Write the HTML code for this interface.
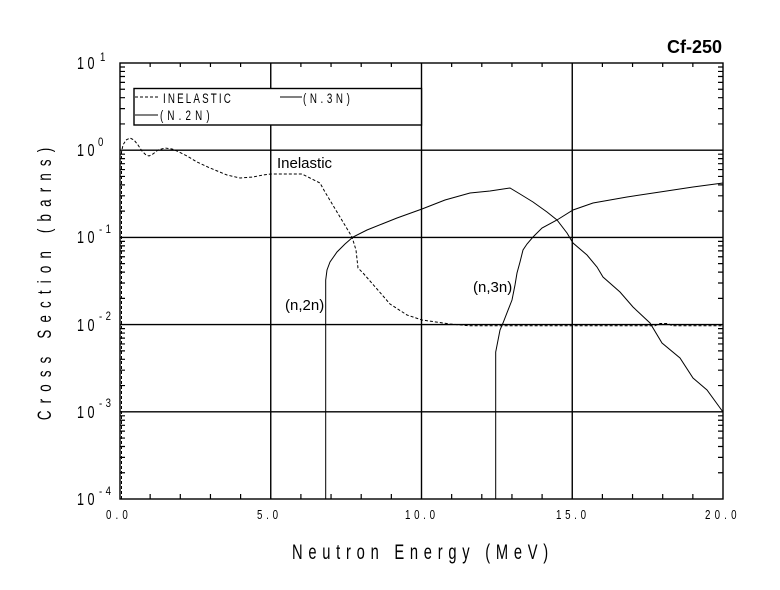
<!DOCTYPE html>
<html>
<head>
<meta charset="utf-8">
<style>
html,body{margin:0;padding:0;background:#fff;}
svg{display:block;}
text{font-family:"Liberation Sans",sans-serif;fill:#000;}
</style>
</head>
<body>
<svg width="780" height="590" viewBox="0 0 780 590" xmlns="http://www.w3.org/2000/svg">
<rect x="0" y="0" width="780" height="590" fill="#fff"/>

<!-- Title -->
<text x="722" y="53" font-size="18" font-weight="bold" text-anchor="end">Cf-250</text>

<!-- Grid lines -->
<g stroke="#000" stroke-width="1.4" fill="none">
  <line x1="270.75" y1="63" x2="270.75" y2="499"/>
  <line x1="421.5" y1="63" x2="421.5" y2="499"/>
  <line x1="572.25" y1="63" x2="572.25" y2="499"/>
  <line x1="120" y1="150.2" x2="723" y2="150.2"/>
  <line x1="120" y1="237.4" x2="723" y2="237.4"/>
  <line x1="120" y1="324.6" x2="723" y2="324.6"/>
  <line x1="120" y1="411.8" x2="723" y2="411.8"/>
  <rect x="120" y="63" width="603" height="436"/>
</g>

<!-- Minor ticks -->
<g stroke="#000" stroke-width="1.2" fill="none">
  <path d="M150.15 63v4M180.3 63v4M210.45 63v4M240.6 63v4M300.9 63v4M331.05 63v4M361.2 63v4M391.35 63v4M451.65 63v4M481.8 63v4M511.95 63v4M542.1 63v4M602.4 63v4M632.55 63v4M662.7 63v4M692.85 63v4"/>
  <path d="M150.15 499v-5M180.3 499v-5M210.45 499v-5M240.6 499v-5M300.9 499v-5M331.05 499v-5M361.2 499v-5M391.35 499v-5M451.65 499v-5M481.8 499v-5M511.95 499v-5M542.1 499v-5M602.4 499v-5M632.55 499v-5M662.7 499v-5M692.85 499v-5"/>
  <path d="M120 472.75h5M120 457.4h5M120 446.5h5M120 438.05h5M120 431.15h5M120 425.3h5M120 420.25h5M120 415.8h5
           M120 385.55h5M120 370.2h5M120 359.3h5M120 350.85h5M120 343.95h5M120 338.1h5M120 333.05h5M120 328.6h5
           M120 298.35h5M120 283h5M120 272.1h5M120 263.65h5M120 256.75h5M120 250.9h5M120 245.85h5M120 241.4h5
           M120 211.15h5M120 195.8h5M120 184.9h5M120 176.45h5M120 169.55h5M120 163.7h5M120 158.65h5M120 154.2h5
           M120 123.95h5M120 108.6h5M120 97.7h5M120 89.25h5M120 82.35h5M120 76.5h5M120 71.45h5M120 67h5"/>
  <path d="M723 472.75h-5M723 457.4h-5M723 446.5h-5M723 438.05h-5M723 431.15h-5M723 425.3h-5M723 420.25h-5M723 415.8h-5
           M723 385.55h-5M723 370.2h-5M723 359.3h-5M723 350.85h-5M723 343.95h-5M723 338.1h-5M723 333.05h-5M723 328.6h-5
           M723 298.35h-5M723 283h-5M723 272.1h-5M723 263.65h-5M723 256.75h-5M723 250.9h-5M723 245.85h-5M723 241.4h-5
           M723 211.15h-5M723 195.8h-5M723 184.9h-5M723 176.45h-5M723 169.55h-5M723 163.7h-5M723 158.65h-5M723 154.2h-5
           M723 123.95h-5M723 108.6h-5M723 97.7h-5M723 89.25h-5M723 82.35h-5M723 76.5h-5M723 71.45h-5M723 67h-5"/>
</g>

<!-- Legend box -->
<rect x="134" y="88.5" width="287.5" height="36.5" fill="#fff" stroke="#000" stroke-width="1.4"/>
<line x1="135" y1="97" x2="158" y2="97" stroke="#000" stroke-width="1" stroke-dasharray="3,2"/>
<text transform="translate(163,103) scale(0.7,1)" font-size="14" textLength="97" lengthAdjust="spacing">INELASTIC</text>
<line x1="280" y1="97" x2="302" y2="97" stroke="#000" stroke-width="1"/>
<text transform="translate(303,103) scale(0.7,1)" font-size="14" textLength="67" lengthAdjust="spacing">(N.3N)</text>
<line x1="135" y1="115" x2="158" y2="115" stroke="#000" stroke-width="1"/>
<text transform="translate(160,120) scale(0.7,1)" font-size="14" textLength="71" lengthAdjust="spacing">(N.2N)</text>

<!-- Inelastic (dashed) -->
<polyline fill="none" stroke="#000" stroke-width="1" stroke-dasharray="3,2"
 points="121.5,499 121.5,152 123,145 126,140 130,138 134,140 138,145 142,151 146,155 149,156 153,154 158,150 165,148 172,149 177,151 187,156 197,162 210,168 227,175 240,178 253,177 263,175 271,174 302,174 310,178 320,183 325,192 340,217 352,237 356,250 358,268 363,273 377,289 390,304 407,315 422,320 450,324 470,325.8 655,325.8 660,323.5 668,323.5 672,325.8 723,325.8"/>

<!-- (n,2n) -->
<polyline fill="none" stroke="#000" stroke-width="1"
 points="325.7,499 325.7,280 327,270 330,262 337,252 345,244 353,237 367,230 382,224 397,218 422,209 445,200 470,193 490,191 510,188 520,194 533,202 547,212 557,220 567,233 573,243 587,255 597,267 603,277 620,292 633,307 650,323 662,343 680,358 693,378 707,390 723,412"/>

<!-- (n,3n) -->
<polyline fill="none" stroke="#000" stroke-width="1"
 points="495.7,499 495.7,352 500,330 503,323 512,300 515,285 517,273 520,262 523,250 527,244 533,237 542,228 557,220 573,210 593,203 627,197 660,192 693,187 723,183"/>

<!-- Curve labels -->
<text x="277" y="168" font-size="15">Inelastic</text>
<text x="285" y="310" font-size="15">(n,2n)</text>
<text x="473" y="292" font-size="15">(n,3n)</text>

<!-- Y tick labels -->
<g font-size="18">
  <text transform="translate(77,69) scale(0.7,1)" textLength="25" lengthAdjust="spacing">10</text>
  <text transform="translate(77,156) scale(0.7,1)" textLength="25" lengthAdjust="spacing">10</text>
  <text transform="translate(77,243) scale(0.7,1)" textLength="25" lengthAdjust="spacing">10</text>
  <text transform="translate(77,331) scale(0.7,1)" textLength="25" lengthAdjust="spacing">10</text>
  <text transform="translate(77,418) scale(0.7,1)" textLength="25" lengthAdjust="spacing">10</text>
  <text transform="translate(77,505) scale(0.7,1)" textLength="25" lengthAdjust="spacing">10</text>
</g>
<g font-size="12">
  <text transform="translate(100,61) scale(0.8,1)">1</text>
  <text transform="translate(98,146) scale(0.8,1)">0</text>
  <text transform="translate(99,233) scale(0.8,1)" textLength="15" lengthAdjust="spacing">-1</text>
  <text transform="translate(99,320) scale(0.8,1)" textLength="15" lengthAdjust="spacing">-2</text>
  <text transform="translate(99,407) scale(0.8,1)" textLength="15" lengthAdjust="spacing">-3</text>
  <text transform="translate(99,495) scale(0.8,1)" textLength="15" lengthAdjust="spacing">-4</text>
</g>

<!-- X tick labels -->
<g font-size="13">
  <text transform="translate(106,519) scale(0.75,1)" textLength="29" lengthAdjust="spacing">0.0</text>
  <text transform="translate(257,519) scale(0.75,1)" textLength="28" lengthAdjust="spacing">5.0</text>
  <text transform="translate(405,519) scale(0.75,1)" textLength="40" lengthAdjust="spacing">10.0</text>
  <text transform="translate(556,519) scale(0.75,1)" textLength="40" lengthAdjust="spacing">15.0</text>
  <text transform="translate(705,519) scale(0.75,1)" textLength="42" lengthAdjust="spacing">20.0</text>
</g>

<!-- Axis titles -->
<text transform="translate(292,559) scale(0.7,1)" font-size="21" textLength="366" lengthAdjust="spacing">Neutron Energy (MeV)</text>
<text transform="translate(51,284) rotate(-90) scale(0.7,1)" font-size="19" text-anchor="middle" textLength="389" lengthAdjust="spacing">Cross Section (barns)</text>
</svg>
</body>
</html>
